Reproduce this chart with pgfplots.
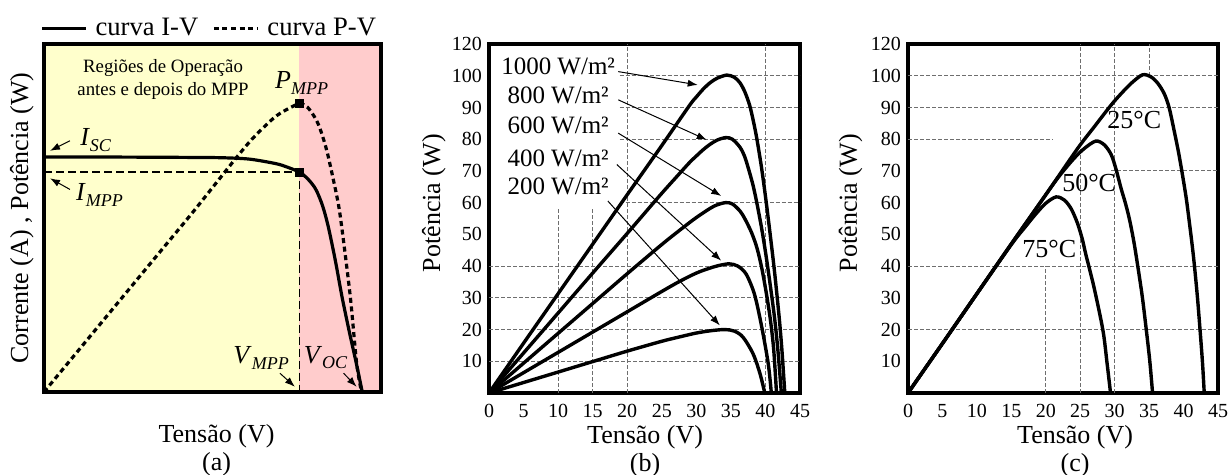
\documentclass[border=0pt]{standalone}
\usepackage{fontspec}
\setmainfont{Liberation Serif}
\usepackage{pgfplots}
\pgfplotsset{compat=1.18}
\usetikzlibrary{arrows.meta}
\definecolor{ybg}{RGB}{255,255,204}
\definecolor{pbg}{RGB}{255,204,204}
\definecolor{gridc}{RGB}{110,110,110}
\newcommand{\sub}[2]{\textit{#1}\raisebox{-2.6pt}{\fontsize{9}{9}\selectfont\textit{#2}}}
\tikzset{
  gridl/.style={gridc, line width=0.5pt, dash pattern=on 2pt off 1pt},
  arr/.style={black, line width=0.5pt, -{Latex[length=5pt,width=3.6pt]}}
}
\pgfplotsset{
  myax/.style={
    scale only axis, anchor=south west,
    axis line style={line width=1.7pt},
    xmin=0, xmax=45,
    tick style={draw=none},
    /pgf/number format/assume math mode=true,
    tick label style={font=\fontsize{10}{12}\selectfont},
    label style={font=\fontsize{13}{14}\selectfont},
    xticklabel style={yshift=-2pt},
    xlabel style={anchor=north, inner sep=0pt, align=center},
    ylabel style={anchor=center, inner sep=0pt},
  },
  curve/.style={black, line width=1.7pt, smooth, tension=0.5},
}
\begin{document}
\begin{tikzpicture}
\path[use as bounding box] (0,0) rectangle (614.5pt,237.5pt);

% ---------------- (a) ----------------
\begin{axis}[myax, at={(22pt,41.5pt)}, width=168.5pt, height=174pt,
  ymin=0, ymax=1, xtick=\empty, ytick=\empty, axis on top,
  xlabel={Tensão (V)\\(a)},
  xlabel style={at={(axis description cs:0.512,-0.093)}},
  ylabel={Corrente (A) , Potência (W)},
  ylabel style={at={(axis description cs:-0.066,0.5)}},
  legend columns=2,
  legend image code/.code={\draw[#1] (0pt,0pt) -- (22pt,0pt); \path (24pt,0pt);},
  legend style={draw=none, fill=none, at={(axis description cs:0,1)}, anchor=south west,
    yshift=0.5pt, xshift=-2pt, inner sep=0pt,
    font=\fontsize{13.3}{14}\selectfont,
    /tikz/every even column/.append style={column sep=5pt}},
]
\fill[ybg] (axis cs:0,0) rectangle (axis cs:34.1,1);
\fill[pbg] (axis cs:34.1,0) rectangle (axis cs:45,1);
\draw[black, line width=0.6pt, dash pattern=on 4pt off 2pt]
  (axis cs:0,0.632) -- (axis cs:34.1,0.632) -- (axis cs:34.1,0);
\addplot[curve, line width=1.6pt] coordinates {
 (0,0.675) (10,0.675) (20,0.674) (24,0.673) (27.5,0.669) (31,0.656) (32.5,0.646)
 (34.1,0.632) (35,0.617) (35.8,0.598) (36.4,0.578) (37.2,0.535) (37.96,0.475)
 (38.9,0.378) (39.8,0.273) (40.8,0.170) (41.7,0.083) (42.5,0)};
\addlegendentry{curva I-V}
\addplot[curve, line width=1.6pt, dash pattern=on 2.5pt off 1.8pt] coordinates {
 (0,0) (5,0.13) (10,0.26) (15,0.39) (20,0.52) (25,0.655) (27.5,0.720) (29.5,0.764)
 (31.07,0.794) (32.7,0.815) (34.1,0.828) (35.2,0.818) (36.4,0.780) (37.2,0.735)
 (37.96,0.676) (39.2,0.552) (39.75,0.475) (40.9,0.274) (41.75,0.082) (42.4,0)};
\addlegendentry{curva P-V}
\addplot[only marks, mark=square*, mark size=2pt, black, forget plot]
  coordinates {(34.1,0.632) (34.1,0.828)};
\node[font=\fontsize{9.4}{11.5}\selectfont, align=center] at (axis cs:15.9,0.897)
  {Regiões de Operação\\antes e depois do MPP};
\node[font=\fontsize{13}{14}\selectfont] at (axis cs:34.4,0.888) {\sub{P}{MPP}};
\node[font=\fontsize{13}{14}\selectfont] at (axis cs:6.9,0.724) {\sub{I}{SC}};
\node[font=\fontsize{13}{14}\selectfont] at (axis cs:7.4,0.566) {\sub{I}{MPP}};
\node[font=\fontsize{13}{14}\selectfont] at (axis cs:29.0,0.098) {\sub{V}{MPP}};
\node[font=\fontsize{13}{14}\selectfont] at (axis cs:37.6,0.098) {\sub{V}{OC}};
\draw[arr] (axis cs:3.47,0.722) -- (axis cs:0.8,0.693);
\draw[arr] (axis cs:3.47,0.582) -- (axis cs:0.8,0.614);
\draw[arr] (axis cs:31.5,0.054) -- (axis cs:33.5,0.015);
\draw[arr] (axis cs:40.0,0.054) -- (axis cs:41.75,0.015);
\end{axis}

% ---------------- (b) ----------------
\begin{axis}[myax, at={(244.5pt,41pt)}, width=155.5pt, height=174.5pt,
  ymin=0, ymax=110,
  xtick={0,5,...,45}, ytick={10,20,...,110},
  yticklabels={10,20,30,40,50,60,70,80,90,100,120},
  xlabel={Tensão (V)\\(b)},
  xlabel style={at={(axis description cs:0.502,-0.093)}},
  ylabel={Potência (W)},
  ylabel style={at={(axis description cs:-0.177,0.544)}},
]
\draw[gridl] (axis cs:10,0) -- (axis cs:10,58) (axis cs:15,0) -- (axis cs:15,58)
  (axis cs:20,0) -- (axis cs:20,110) (axis cs:40,0) -- (axis cs:40,110)
  (axis cs:18.9,100) -- (axis cs:45,100) (axis cs:18.9,90) -- (axis cs:45,90)
  (axis cs:18.9,80) -- (axis cs:45,80) (axis cs:18.9,60) -- (axis cs:45,60)
  (axis cs:0,40) -- (axis cs:45,40) (axis cs:0,30) -- (axis cs:45,30)
  (axis cs:0,20) -- (axis cs:45,20) (axis cs:0,10) -- (axis cs:45,10);
% 1000 W/m2
\addplot[curve] coordinates {
 (0,0) (5,15.7) (10,31.3) (15,46.9) (20,62.5) (25,78.0) (29,90.6) (30,93.3) (31,95.8)
 (32,97.8) (33,99.2) (34.4,100.2) (35.5,99.5) (36.3,97.8) (37,95.0) (37.7,90.8)
 (38.2,86.2) (38.7,80.8) (39.4,71.5) (40,62.0) (40.6,51.5) (41.3,38.5) (42,23.5)
 (42.4,13) (42.8,0)};
% 800 W/m2
\addplot[curve] coordinates {
 (0,0) (5,12.6) (10,25.2) (15,37.8) (20,50.3) (24.7,62.2) (27,67.8) (29,72.6) (30,74.7)
 (31,76.7) (32,78.4) (33,79.7) (34.25,80.5) (35.2,80.0) (36.3,77.5) (37,74.5)
 (37.7,69.5) (38.2,65.5) (38.7,60.5) (39.4,52.5) (40,44.5) (40.6,35.5) (41.3,24)
 (41.8,13.5) (42.3,0)};
% 600 W/m2
\addplot[curve] coordinates {
 (0,0) (5,9.4) (10,18.8) (15,28.2) (20,37.6) (25,46.8) (28,52.0) (30,55.3) (32,58.2)
 (33,59.3) (34.25,60.0) (35.2,59.6) (36.3,57.4) (37,55.0) (38,50.5) (38.8,45.5)
 (39.5,39.0) (40.2,30.5) (40.75,22.5) (41.2,13.5) (41.6,0)};
% 400 W/m2
\addplot[curve] coordinates {
 (0,0) (5,6.4) (10,12.8) (15,19.2) (20,25.6) (25,32.0) (27.6,35.2) (30,37.8) (32,39.4)
 (33.5,40.3) (34.8,40.7) (36,40.0) (37.2,37.5) (38.4,31.2) (39.4,21.5) (40.4,9.3) (40.85,0)};
% 200 W/m2
\addplot[curve] coordinates {
 (0,0) (5,3.3) (10,6.6) (15,9.9) (20,13.2) (25,16.3) (28,17.9) (30,18.9) (32,19.6)
 (34.1,20.0) (35.5,19.5) (36.75,17.6) (38.2,12.4) (39.2,6.2) (39.9,0)};
\begin{scope}[every node/.style={font=\fontsize{12.5}{14}\selectfont, inner sep=0.5pt}]
\node at (axis cs:10.0,103.1) {1000 W/m²};
\node at (axis cs:10.0,93.9) {800 W/m²};
\node at (axis cs:10.0,84.5) {600 W/m²};
\node at (axis cs:10.0,74.1) {400 W/m²};
\node at (axis cs:10.0,65.2) {200 W/m²};
\end{scope}
\draw[arr] (axis cs:18.7,101.3) -- (axis cs:30.2,97.1);
\draw[arr] (axis cs:18.7,92.4) -- (axis cs:31.5,79.8);
\draw[arr] (axis cs:18.7,81.9) -- (axis cs:33.6,62.1);
\draw[arr] (axis cs:18.5,72.0) -- (axis cs:33.6,41.7);
\draw[arr] (axis cs:17.2,60.5) -- (axis cs:33.4,21.3);
\end{axis}

% ---------------- (c) ----------------
\begin{axis}[myax, at={(454pt,41pt)}, width=155pt, height=174.5pt,
  ymin=0, ymax=110,
  xtick={0,5,...,45}, ytick={10,20,...,110},
  yticklabels={10,20,30,40,50,60,70,80,90,100,120},
  xlabel={Tensão (V)\\(c)},
  xlabel style={at={(axis description cs:0.539,-0.093)}},
  ylabel={Potência (W)},
  ylabel style={at={(axis description cs:-0.185,0.544)}},
]
\draw[gridl] (axis cs:20,0) -- (axis cs:20,40) (axis cs:25,0) -- (axis cs:25,110)
  (axis cs:30,0) -- (axis cs:30,110) (axis cs:35,100) -- (axis cs:35,110)
  (axis cs:0,100) -- (axis cs:45,100) (axis cs:0,90) -- (axis cs:45,90)
  (axis cs:0,80) -- (axis cs:21,80) (axis cs:29.5,70) -- (axis cs:45,70)
  (axis cs:0,40) -- (axis cs:45,40) (axis cs:0,20) -- (axis cs:45,20);
% 25 C
\addplot[curve] coordinates {
 (0,0) (5,15.6) (10,31.3) (15,47.0) (20,62.5) (24.6,77.0) (27,83.8) (29.5,90.8)
 (31,94.5) (32.5,97.8) (34.06,100.3) (35.3,99.6) (36.3,97.5) (37.2,94.3) (37.9,90.0)
 (38.65,82.5) (39.3,75.5) (39.9,68.0) (40.4,61.2) (40.8,54.5) (41.2,47.5) (41.55,40.7)
 (42.0,30.5) (42.4,19.7) (42.75,9.5) (43.0,0)};
% 50 C
\addplot[curve] coordinates {
 (0,0) (5,15.6) (10,31.3) (15,47.0) (20,62.5) (22,68.5) (24,73.7) (25.5,76.9)
 (27.25,79.4) (28.5,78.2) (29.5,75.1) (30.2,70.5) (30.9,64.7) (31.6,59.5) (32.2,54.2)
 (32.8,47.5) (33.3,40.7) (34.0,30.5) (34.6,19.7) (35.1,10) (35.5,0)};
% 75 C
\addplot[curve] coordinates {
 (0,0) (5,15.6) (10,31.3) (15,46.8) (17,52.3) (18.5,56.3) (20,59.8) (21.5,61.8)
 (22.7,60.8) (23.7,58.0) (24.6,53.5) (25.3,48.5) (25.8,43.8) (27,33.3) (28.3,19.7)
 (28.9,9.3) (29.4,0)};
\begin{scope}[every node/.style={font=\fontsize{13}{14}\selectfont, inner sep=0pt}]
\node at (axis cs:32.85,86.1) {25°C};
\node at (axis cs:26.3,66.2) {50°C};
\node at (axis cs:20.5,45.4) {75°C};
\end{scope}
\end{axis}
\end{tikzpicture}
\end{document}
